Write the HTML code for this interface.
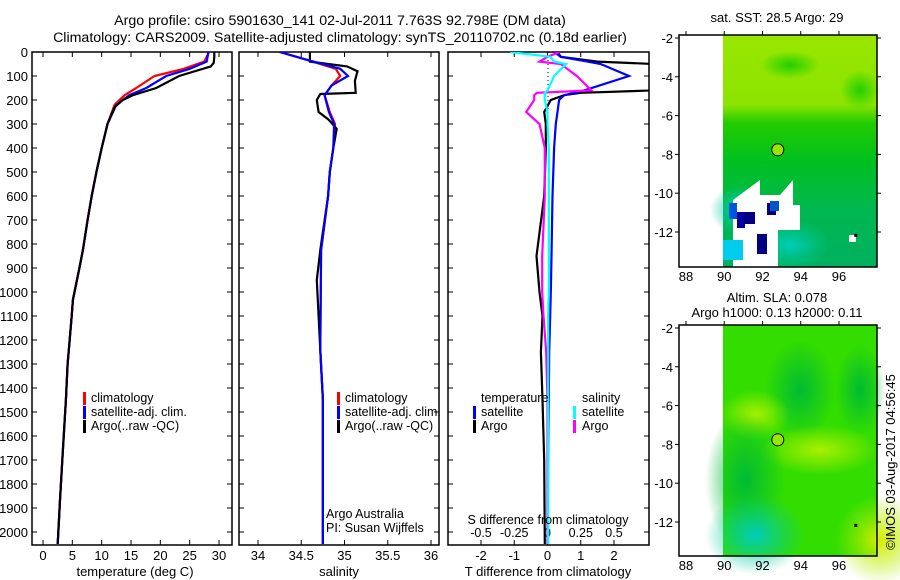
<!DOCTYPE html>
<html><head><meta charset="utf-8">
<style>
body{margin:0;background:#fff;}
svg{display:block;font-family:"Liberation Sans",sans-serif;}
text{fill:#000;}
</style></head>
<body>
<svg id="chart" width="900" height="580" viewBox="0 0 900 580" xmlns="http://www.w3.org/2000/svg">
<text x="340" y="25" font-size="14.2" text-anchor="middle">Argo profile: csiro 5901630_141 02-Jul-2011 7.763S 92.798E (DM data)</text>
<text x="340" y="42" font-size="14.2" text-anchor="middle">Climatology: CARS2009. Satellite-adjusted climatology: synTS_20110702.nc (0.18d earlier)</text>
<g id="panels"></g>
<g id="maps"></g>
</svg>
<script>
const NS="http://www.w3.org/2000/svg";
// ---- data ----
const depthTicks=[0,100,200,300,400,500,600,700,800,900,1000,1100,1200,1300,1400,1500,1600,1700,1800,1900,2000];
const tempTicks=[0,5,10,15,20,25,30];
const salTicks=[34,34.5,35,35.5,36];
const tdTicks=[-2,-1,0,1,2];
const sdTicks=[-0.5,-0.25,0,0.25,0.5];
const sdTickLabels=["-0.5","-0.25","0","0.25","0.5"];

const depthA=[0,20,45,60,100,150,180,200,230,300,400,500,600,700,825,900,1033,1100,1242,1300,1450,1658,1867,2050];
const tempArgo=[29.2,29.2,29.1,28.6,23.2,19.3,15.3,13.6,12.2,11,10,9.1,8.3,7.6,6.8,6.2,5.1,4.9,4.4,4.2,3.9,3.4,2.9,2.5];
const depthC=[0,40,70,100,150,180,220,300,400,500,600,700,825,900,1033,1100,1242,1300,1450,1658,1867,2050];
const tempClim=[28.3,27.5,24,19,15.9,13.9,12.2,11,10,9.1,8.3,7.6,6.8,6.2,5.1,4.9,4.4,4.2,3.9,3.4,2.9,2.5];
const tempSat=[28.2,27.9,25,21,17.6,14.7,12.5,11,10,9.1,8.3,7.6,6.8,6.2,5.1,4.9,4.4,4.2,3.9,3.4,2.9,2.5];

const depthS=[0,20,40,60,80,120,170,175,200,250,280,320,400,500,600,825,950,1242,1450,2050];
const salArgo=[34.6,34.6,34.6,35.03,35.15,35.12,35.13,34.72,34.68,34.7,34.81,34.91,34.87,34.83,34.81,34.72,34.68,34.72,34.75,34.75];
const depthSC=[0,30,70,100,140,180,250,300,400,500,600,825,1242,1450,2050];
const salClim=[34.25,34.54,34.9,34.95,34.85,34.77,34.83,34.89,34.87,34.83,34.81,34.73,34.72,34.75,34.75];
const salSat=[34.25,34.54,34.95,35.04,34.85,34.77,34.82,34.88,34.87,34.83,34.81,34.73,34.72,34.75,34.75];

const depthD=[0,20,40,50,100,160,170,180,200,250,300,400,600,850,1000,1100,1250,1450,1700,2050];
const dtArgo=[0.3,0.4,1.5,3.2,4,3.2,1.0,0.5,0.1,-0.1,-0.05,-0.05,-0.1,-0.33,-0.24,-0.15,-0.2,-0.15,-0.1,-0.08];
const dtSat=[0.2,0.4,1.2,1.6,2.45,1.1,0.8,0.5,0.35,0.3,0.25,0.2,0.15,0.12,0.1,0.08,0.05,0.04,0.02,0];
const dsArgo=[0.09,0.0,-0.06,0.1,0.22,0.33,-0.08,-0.1,-0.1,-0.16,-0.06,-0.02,-0.02,-0.04,-0.04,-0.03,-0.01,0,0,0];
const dsSat=[-0.28,0.02,0.05,0.14,0.05,0.0,-0.02,-0.02,-0.02,0,0,0.01,0.01,0.01,0.01,0.005,0.005,0.005,0.005,0.005];

// ---- helpers ----
const yTop=52, yBot=545;
function yScale(d){return yTop+d*0.24;}
function mk(tag,attrs,parent){const e=document.createElementNS(NS,tag);for(const k in attrs)e.setAttribute(k,attrs[k]);parent.appendChild(e);return e;}
const panels=document.getElementById('panels');

function linScale(d0,d1,r0,r1){return v=>r0+(v-d0)/(d1-d0)*(r1-r0);}

function drawPanel(name,x0,x1,ticks,xs,labelFn,withY){
  const g=mk('g',{},panels);
  
  
  const fr=mk('rect',{x:x0,y:yTop,width:x1-x0,height:yBot-yTop,fill:'none',stroke:'#000','stroke-width':1.5},g);
  
  
  depthTicks.forEach(d=>{
    const y=yScale(d);
    mk('line',{x1:x0,x2:x0+5,y1:y,y2:y,stroke:'#000'},g);
    mk('line',{x1:x1-5,x2:x1,y1:y,y2:y,stroke:'#000'},g);
    if(withY){
      const t=mk('text',{x:28,y:y+5,'font-size':13,'text-anchor':'end'},g);
      t.textContent=d;
      
      
    }
  });
  ticks.forEach((v,i)=>{
    const x=xs(v);
    mk('line',{x1:x,x2:x,y1:yBot,y2:yBot-5,stroke:'#000'},g);
    mk('line',{x1:x,x2:x,y1:yTop,y2:yTop+5,stroke:'#000'},g);
    const t=mk('text',{x:x,y:560,'font-size':13,'text-anchor':'middle'},g);
    t.textContent=labelFn(v,i);
    
    
  });
  return g;
}
function line(g,name,depths,vals,xs,color,x0,x1){
  const cp='clip-'+name;
  const c=mk('clipPath',{id:cp},g);
  mk('rect',{x:x0,y:yTop,width:x1-x0,height:yBot-yTop},c);
  const pts=depths.map((d,i)=>xs(vals[i]).toFixed(1)+','+yScale(d).toFixed(1)).join(' ');
  const p=mk('polyline',{points:pts,fill:'none',stroke:color,'stroke-width':2.2,'clip-path':'url(#'+cp+')'},g);
  
  
}
function txt(g,name,x,y,s,size,anchor){
  const t=mk('text',{x:x,y:y,'font-size':size||12.5,'text-anchor':anchor||'start'},g);
  t.textContent=s;
  
  
  return t;
}
function legMark(g,x,y,color){mk('rect',{x:x,y:y-11,width:3,height:13,fill:color},g);}

// Panel 1 temperature
const xT=linScale(0,30,43,219);
const g1=drawPanel('temperature-panel',32,232,tempTicks,xT,v=>v,true);
line(g1,'temp-climatology-line',depthC,tempClim,xT,'#f00',32,232);
line(g1,'temp-satellite-line',depthC,tempSat,xT,'#00f',32,232);
line(g1,'temp-argo-line',depthA,tempArgo,xT,'#000',32,232);
legMark(g1,83,403,'#f00');txt(g1,'legend-climatology',91,402,'climatology');
legMark(g1,83,417,'#00f');txt(g1,'legend-satellite-adj',91,416,'satellite-adj. clim.');
legMark(g1,83,431,'#000');txt(g1,'legend-argo',91,430,'Argo(..raw -QC)');
txt(g1,'x-axis-title-temperature',135,576,'temperature (deg C)',13,'middle');

// Panel 2 salinity
const xS=linScale(34,36,258,431);
const g2=drawPanel('salinity-panel',239,439,salTicks,xS,v=>v,false);
line(g2,'sal-climatology-line',depthSC,salClim,xS,'#f00',239,439);
line(g2,'sal-argo-line',depthS,salArgo,xS,'#000',239,439);
line(g2,'sal-satellite-line',depthSC,salSat,xS,'#00f',239,439);
legMark(g2,337,403,'#f00');txt(g2,'legend-climatology-2',345,402,'climatology');
legMark(g2,337,417,'#00f');txt(g2,'legend-satellite-adj-2',345,416,'satellite-adj. clim.');
legMark(g2,337,431,'#000');txt(g2,'legend-argo-2',345,430,'Argo(..raw -QC)');
txt(g2,'credit-argo-australia',326,518,'Argo Australia');
txt(g2,'credit-pi',326,532,'PI: Susan Wijffels');
txt(g2,'x-axis-title-salinity',339,576,'salinity',13,'middle');

// Panel 3 differences
const xD=linScale(-2,2,481,614);
const xSD=v=>xD(v*4);
const g3=drawPanel('difference-panel',448,649,tdTicks,xD,v=>v,false);
mk('line',{x1:548,x2:548,y1:yTop,y2:140,stroke:'#000','stroke-dasharray':'1,3'},g3);
sdTicks.forEach((v,i)=>{txt(g3,'s-diff-tick-label',xSD(v),537,sdTickLabels[i],12.5,'middle');});
line(g3,'tdiff-argo-line',depthD,dtArgo,xD,'#000',448,649);
line(g3,'tdiff-satellite-line',depthD,dtSat,xD,'#00f',448,649);
line(g3,'sdiff-argo-line',depthD,dsArgo,xSD,'#f0f',448,649);
line(g3,'sdiff-satellite-line',depthD,dsSat,xSD,'#0ff',448,649);
txt(g3,'legend-temperature-heading',481,402,'temperature');
legMark(g3,473,417,'#00f');txt(g3,'legend-t-satellite',481,416,'satellite');
legMark(g3,473,431,'#000');txt(g3,'legend-t-argo',481,430,'Argo');
txt(g3,'legend-salinity-heading',582,402,'salinity');
legMark(g3,573,417,'#0ff');txt(g3,'legend-s-satellite',582,416,'satellite');
legMark(g3,573,431,'#f0f');txt(g3,'legend-s-argo',582,430,'Argo');
txt(g3,'s-diff-axis-title',548,524,'S difference from climatology',12.5,'middle');
txt(g3,'x-axis-title-tdiff',548,576,'T difference from climatology',13,'middle');

// ---- maps ----
const maps=document.getElementById('maps');
const lonTicks=[88,90,92,94,96];
const latTicks=[-2,-4,-6,-8,-10,-12];
function drawMap(name,yT,yB,latRef,bodyFn){
  const g=mk('g',{},maps);
  
  
  const xl=linScale(88,96,686,839);
  const yl=linScale(-2,-12,latRef[0],latRef[1]);
  bodyFn(g,xl,yl);
  mk('rect',{x:679,y:yT,width:198,height:yB-yT,fill:'none',stroke:'#000','stroke-width':1.5},g);
  lonTicks.forEach(v=>{
    mk('line',{x1:xl(v),x2:xl(v),y1:yT,y2:yT-4,stroke:'#000'},g);
    txt(g,'lon-tick-label',xl(v),yB+14,v,13,'middle');
  });
  latTicks.forEach(v=>{
    mk('line',{x1:679,x2:675,y1:yl(v),y2:yl(v),stroke:'#000'},g);
    mk('line',{x1:877,x2:881,y1:yl(v),y2:yl(v),stroke:'#000'},g);
    txt(g,'lat-tick-label',673,yl(v)+5,v,13,'end');
  });
  const c=mk('circle',{cx:xl(92.798),cy:yl(-7.763),r:6,fill:'#99e600',stroke:'#000','stroke-width':1},g);
  
  
  mk('rect',{x:xl(96.8),y:yl(-12.2)-2,width:3,height:3,fill:'#000'},g);
  return g;
}
const defs=mk('defs',{},maps);
defs.innerHTML='<linearGradient id="sstg" x1="0" y1="0" x2="0" y2="1"><stop offset="0" stop-color="#99e600"/><stop offset="0.3" stop-color="#8ce400"/><stop offset="0.38" stop-color="#22cc00"/><stop offset="0.55" stop-color="#00c020"/><stop offset="0.75" stop-color="#00b850"/><stop offset="1" stop-color="#00b060"/></linearGradient>'+
'<radialGradient id="tealA" cx="0.5" cy="0.5" r="0.5"><stop offset="0" stop-color="#00ccbb"/><stop offset="1" stop-color="#00cc99" stop-opacity="0"/></radialGradient>'+
'<radialGradient id="yelA" cx="0.5" cy="0.5" r="0.5"><stop offset="0" stop-color="#d8ee00"/><stop offset="1" stop-color="#aaee00" stop-opacity="0"/></radialGradient>'+
'<radialGradient id="dkA" cx="0.5" cy="0.5" r="0.5"><stop offset="0" stop-color="#00bb33"/><stop offset="1" stop-color="#00bb33" stop-opacity="0"/></radialGradient>'+
'<radialGradient id="ygA" cx="0.5" cy="0.5" r="0.5"><stop offset="0" stop-color="#aaf000"/><stop offset="1" stop-color="#aaf000" stop-opacity="0"/></radialGradient>'+
'<radialGradient id="gnA" cx="0.5" cy="0.5" r="0.5"><stop offset="0" stop-color="#22d000"/><stop offset="1" stop-color="#22d000" stop-opacity="0"/></radialGradient>';

drawMap('sst-map',35,267,[38,232],(g,xl,yl)=>{
  mk('rect',{x:723,y:35,width:154,height:232,fill:'url(#sstg)'},g);
  mk('ellipse',{cx:790,cy:65,rx:30,ry:14,fill:'url(#gnA)'},g);
  mk('ellipse',{cx:860,cy:90,rx:20,ry:20,fill:'url(#gnA)'},g);
  mk('ellipse',{cx:740,cy:210,rx:30,ry:25,fill:'url(#tealA)'},g);
  mk('ellipse',{cx:790,cy:245,rx:40,ry:25,fill:'url(#tealA)'},g);
  mk('polygon',{points:'733,200 733,267 778,267 778,230 800,230 800,205 793,205 793,180 780,195 760,195 760,180',fill:'#fff'},g);
  mk('rect',{x:745,y:212,width:10,height:12,fill:'#000080'},g);
  mk('rect',{x:729,y:203,width:8,height:16,fill:'#0055dd'},g);
  mk('rect',{x:737,y:212,width:8,height:16,fill:'#000099'},g);
  mk('rect',{x:767,y:203,width:9,height:12,fill:'#000080'},g);
  mk('rect',{x:757,y:234,width:10,height:20,fill:'#000080'},g);
  mk('rect',{x:770,y:201,width:9,height:10,fill:'#0055cc'},g);
  mk('rect',{x:723,y:240,width:20,height:20,fill:'#00ccee'},g);
  mk('rect',{x:849,y:235,width:7,height:7,fill:'#fff'},g);
});
txt(maps,'sst-map-title',777,22,'sat. SST: 28.5 Argo: 29',13,'middle');

drawMap('sla-map',325,556,[328,522],(g,xl,yl)=>{
  mk('rect',{x:723,y:325,width:154,height:231,fill:'#33dd00'},g);
  mk('ellipse',{cx:800,cy:390,rx:35,ry:50,fill:'url(#dkA)'},g);
  mk('ellipse',{cx:860,cy:390,rx:25,ry:45,fill:'url(#dkA)'},g);
  mk('ellipse',{cx:820,cy:450,rx:60,ry:25,fill:'url(#ygA)'},g);
  mk('ellipse',{cx:755,cy:415,rx:35,ry:25,fill:'url(#ygA)'},g);
  mk('ellipse',{cx:745,cy:480,rx:40,ry:70,fill:'url(#dkA)'},g);
  mk('ellipse',{cx:755,cy:535,rx:50,ry:40,fill:'url(#tealA)'},g);
  mk('ellipse',{cx:880,cy:540,rx:45,ry:45,fill:'url(#yelA)'},g);
});
txt(maps,'sla-map-title-1',777,302,'Altim. SLA: 0.078',13,'middle');
txt(maps,'sla-map-title-2',777,317,'Argo h1000: 0.13 h2000: 0.11',13,'middle');
const r=txt(maps,'imos-timestamp',0,0,'©IMOS 03-Aug-2017 04:56:45',13,'middle');
r.setAttribute('transform','translate(895,462) rotate(-90)');
</script>
</body></html>
